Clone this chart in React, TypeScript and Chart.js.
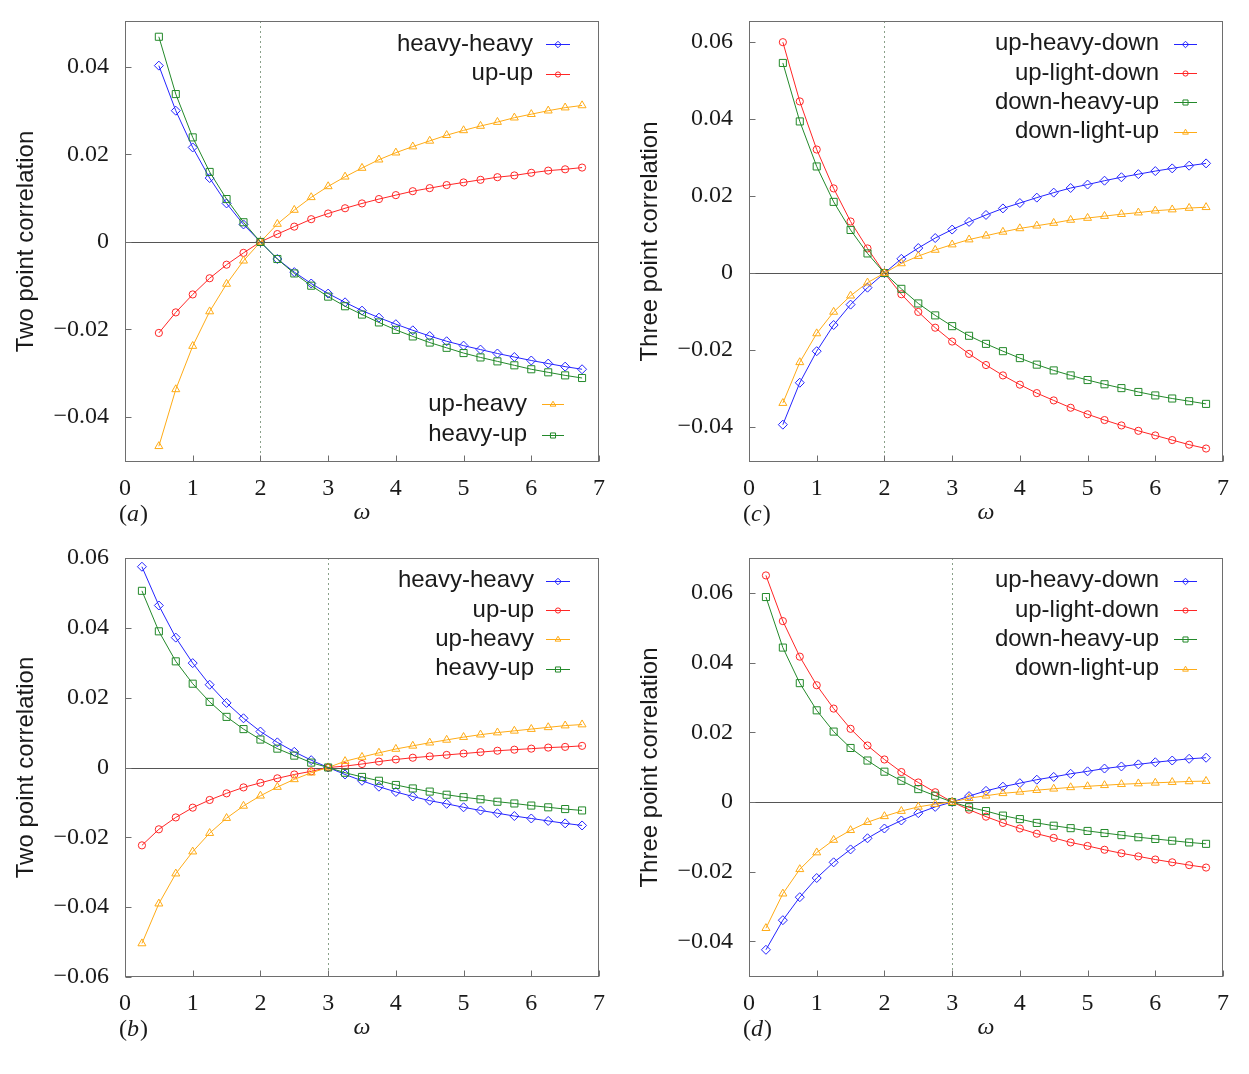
import React, { useEffect, useRef } from 'react';
import { Chart, registerables } from 'chart.js';
import { drawPoint } from 'chart.js/helpers';

Chart.register(...registerables);

// ---------- data ----------
const omegaAC = [0.5, 0.75, 1, 1.25, 1.5, 1.75, 2, 2.25, 2.5, 2.75, 3, 3.25, 3.5, 3.75, 4, 4.25, 4.5, 4.75, 5, 5.25, 5.5, 5.75, 6, 6.25, 6.5, 6.75];
const omegaBD = [0.25, 0.5, 0.75, 1, 1.25, 1.5, 1.75, 2, 2.25, 2.5, 2.75, 3, 3.25, 3.5, 3.75, 4, 4.25, 4.5, 4.75, 5, 5.25, 5.5, 5.75, 6, 6.25, 6.5, 6.75];

// panel (a)
const aHeavyHeavy = [0.0403, 0.0300, 0.0216, 0.0146, 0.0088, 0.0040, 0, -0.0039, -0.0069, -0.0095, -0.0118, -0.0138, -0.0157, -0.0173, -0.0188, -0.0202, -0.0215, -0.0227, -0.0237, -0.0246, -0.0255, -0.0263, -0.0271, -0.0278, -0.0285, -0.0291];
const aUpUp = [-0.0208, -0.0161, -0.0120, -0.0083, -0.0052, -0.0025, 0, 0.0018, 0.0035, 0.0052, 0.0065, 0.0077, 0.0088, 0.0098, 0.0107, 0.0116, 0.0123, 0.0130, 0.0136, 0.0142, 0.0148, 0.0152, 0.0158, 0.0163, 0.0166, 0.0170];
const aUpHeavy = [-0.0467, -0.0337, -0.0238, -0.0159, -0.0096, -0.0043, 0, 0.0041, 0.0073, 0.0102, 0.0127, 0.0149, 0.0169, 0.0188, 0.0204, 0.0218, 0.0231, 0.0244, 0.0255, 0.0265, 0.0274, 0.0284, 0.0292, 0.0300, 0.0307, 0.0312];
const aHeavyUp = [0.0469, 0.0338, 0.0239, 0.0160, 0.0098, 0.0045, 0, -0.0039, -0.0072, -0.0100, -0.0125, -0.0147, -0.0166, -0.0184, -0.0201, -0.0216, -0.0230, -0.0242, -0.0254, -0.0264, -0.0273, -0.0282, -0.0291, -0.0298, -0.0305, -0.0311];

// panel (b)
const bHeavyHeavy = [0.0575, 0.0464, 0.0372, 0.0299, 0.0237, 0.0185, 0.0141, 0.0103, 0.0072, 0.0045, 0.0021, 0, -0.0020, -0.0038, -0.0055, -0.0070, -0.0083, -0.0095, -0.0104, -0.0114, -0.0123, -0.0131, -0.0139, -0.0146, -0.0153, -0.0160, -0.0166];
const bUpUp = [-0.0223, -0.0177, -0.0143, -0.0115, -0.0093, -0.0074, -0.0057, -0.0044, -0.0031, -0.0020, -0.0011, 0, 0.0004, 0.0010, 0.0017, 0.0023, 0.0028, 0.0032, 0.0036, 0.0040, 0.0044, 0.0048, 0.0051, 0.0054, 0.0057, 0.0059, 0.0062];
const bUpHeavy = [-0.0504, -0.0390, -0.0304, -0.0241, -0.0188, -0.0145, -0.0110, -0.0081, -0.0056, -0.0034, -0.0015, 0, 0.0018, 0.0030, 0.0042, 0.0053, 0.0062, 0.0071, 0.0079, 0.0087, 0.0094, 0.0100, 0.0105, 0.0110, 0.0115, 0.0120, 0.0123];
const bHeavyUp = [0.0506, 0.0390, 0.0304, 0.0240, 0.0188, 0.0145, 0.0110, 0.0080, 0.0054, 0.0034, 0.0014, 0, -0.0015, -0.0027, -0.0038, -0.0050, -0.0060, -0.0069, -0.0078, -0.0085, -0.0091, -0.0098, -0.0103, -0.0109, -0.0114, -0.0119, -0.0123];

// panel (c)
const cUpHeavyDown = [-0.0394, -0.0285, -0.0203, -0.0135, -0.0082, -0.0038, 0, 0.0037, 0.0065, 0.0091, 0.0113, 0.0133, 0.0151, 0.0168, 0.0182, 0.0196, 0.0209, 0.0221, 0.0230, 0.0240, 0.0249, 0.0257, 0.0265, 0.0272, 0.0279, 0.0285];
const cUpLightDown = [0.0600, 0.0446, 0.0321, 0.0220, 0.0134, 0.0064, 0, -0.0055, -0.0101, -0.0142, -0.0178, -0.0210, -0.0239, -0.0266, -0.0290, -0.0312, -0.0331, -0.0350, -0.0367, -0.0382, -0.0396, -0.0410, -0.0422, -0.0434, -0.0446, -0.0456];
const cDownHeavyUp = [0.0546, 0.0394, 0.0277, 0.0185, 0.0112, 0.0051, 0, -0.0041, -0.0079, -0.0110, -0.0138, -0.0163, -0.0184, -0.0203, -0.0221, -0.0238, -0.0253, -0.0266, -0.0278, -0.0289, -0.0299, -0.0309, -0.0318, -0.0326, -0.0333, -0.0340];
const cDownLightUp = [-0.0338, -0.0232, -0.0157, -0.0101, -0.0059, -0.0025, 0, 0.0025, 0.0044, 0.0060, 0.0074, 0.0087, 0.0097, 0.0107, 0.0116, 0.0123, 0.0130, 0.0138, 0.0143, 0.0148, 0.0153, 0.0157, 0.0162, 0.0165, 0.0169, 0.0171];

// panel (d)
const dUpHeavyDown = [-0.0424, -0.0339, -0.0273, -0.0218, -0.0173, -0.0136, -0.0104, -0.0076, -0.0053, -0.0032, -0.0014, 0, 0.0017, 0.0032, 0.0044, 0.0054, 0.0064, 0.0072, 0.0081, 0.0088, 0.0096, 0.0102, 0.0108, 0.0114, 0.0119, 0.0124, 0.0127];
const dUpLightDown = [0.0650, 0.0519, 0.0417, 0.0335, 0.0268, 0.0210, 0.0162, 0.0122, 0.0086, 0.0056, 0.0028, 0, -0.0022, -0.0042, -0.0060, -0.0076, -0.0091, -0.0103, -0.0116, -0.0126, -0.0137, -0.0147, -0.0156, -0.0165, -0.0173, -0.0181, -0.0188];
const dDownHeavyUp = [0.0588, 0.0443, 0.0341, 0.0263, 0.0202, 0.0155, 0.0119, 0.0087, 0.0061, 0.0037, 0.0018, 0, -0.0015, -0.0026, -0.0039, -0.0049, -0.0060, -0.0068, -0.0075, -0.0083, -0.0089, -0.0095, -0.0101, -0.0106, -0.0111, -0.0116, -0.0120];
const dDownLightUp = [-0.0362, -0.0263, -0.0193, -0.0145, -0.0109, -0.0081, -0.0058, -0.0041, -0.0026, -0.0014, -0.0006, 0, 0.0011, 0.0018, 0.0025, 0.0029, 0.0034, 0.0038, 0.0042, 0.0045, 0.0048, 0.0051, 0.0053, 0.0055, 0.0057, 0.0059, 0.0060];

const xTicks = [0, 1, 2, 3, 4, 5, 6, 7];
const yTicksA = [-0.04, -0.02, 0, 0.02, 0.04];
const yTicksB = [-0.06, -0.04, -0.02, 0, 0.02, 0.04, 0.06];
const yTicksC = [-0.04, -0.02, 0, 0.02, 0.04, 0.06];
const yTicksD = [-0.04, -0.02, 0, 0.02, 0.04, 0.06];

const twoLabels = ['heavy-heavy', 'up-up', 'up-heavy', 'heavy-up'];
const threeLabels = ['up-heavy-down', 'up-light-down', 'down-heavy-up', 'down-light-up'];

// ---------- styles ----------
const BLUE = { color: '#2424ff', pointStyle: 'rectRot', r: 4.5 };
const RED = { color: '#ff2626', pointStyle: 'circle', r: 3.6 };
const ORANGE = { color: '#ffab16', pointStyle: 'triangle', r: 4.6 };
const GREEN = { color: '#23892a', pointStyle: 'rect', r: 5 };

const TEXT = '#1a1a1a';
const SANS = "'Liberation Sans', Arial, sans-serif";
const SERIF = "'Liberation Serif', 'Times New Roman', serif";

const fmtTick = (v: number) => {
  if (Math.abs(v) < 1e-12) return '0';
  return (v < 0 ? '\u2212' : '') + Math.abs(v).toFixed(2);
};

const decoPlugin = {
  id: 'deco',
  beforeDatasetsDraw(chart: any, _a: any, opts: any) {
    const { ctx, chartArea: ca, scales } = chart;
    const y0 = Math.round(scales.y.getPixelForValue(0)) + 0.5;
    const xv = Math.round(scales.x.getPixelForValue(opts.crossX)) + 0.5;
    ctx.save();
    ctx.lineWidth = 1;
    ctx.strokeStyle = '#8aa08a';
    ctx.setLineDash([2, 3]);
    ctx.beginPath();
    ctx.moveTo(xv, ca.top);
    ctx.lineTo(xv, ca.bottom);
    ctx.stroke();
    ctx.setLineDash([]);
    ctx.strokeStyle = '#555555';
    ctx.beginPath();
    ctx.moveTo(ca.left, y0);
    ctx.lineTo(ca.right, y0);
    ctx.stroke();
    ctx.restore();
  },
  afterDraw(chart: any, _a: any, opts: any) {
    const { ctx, chartArea: ca, scales } = chart;
    ctx.save();
    ctx.lineWidth = 1;
    ctx.strokeStyle = '#6e6e6e';
    const L = Math.round(ca.left) + 0.5, R = Math.round(ca.right) - 0.5;
    const T = Math.round(ca.top) + 0.5, B = Math.round(ca.bottom) - 0.5;
    ctx.strokeRect(L, T, R - L, B - T);
    ctx.beginPath();
    scales.x.ticks.forEach((t: any) => {
      const px = Math.round(scales.x.getPixelForValue(t.value)) + 0.5;
      ctx.moveTo(px, B);
      ctx.lineTo(px, B - 6);
    });
    scales.y.ticks.forEach((t: any) => {
      const py = Math.round(scales.y.getPixelForValue(t.value)) + 0.5;
      ctx.moveTo(L, py);
      ctx.lineTo(L + 6, py);
    });
    ctx.stroke();

    // legends
    ctx.font = `24px ${SANS}`;
    ctx.textAlign = 'right';
    ctx.textBaseline = 'middle';
    (opts.groups || []).forEach((g: any) => {
      g.items.forEach((k: number, i: number) => {
        const ds = chart.data.datasets[k];
        const yy = (g.anchor === 'top' ? ca.top + g.first : ca.bottom - g.first) + i * g.step;
        ctx.fillStyle = TEXT;
        ctx.fillText(ds.label, ca.right - g.textOff, yy);
        ctx.strokeStyle = ds.borderColor;
        ctx.lineWidth = 1;
        ctx.beginPath();
        ctx.moveTo(ca.right - g.lineFrom, Math.round(yy) + 0.5);
        ctx.lineTo(ca.right - g.lineTo, Math.round(yy) + 0.5);
        ctx.stroke();
        ctx.fillStyle = 'rgba(0,0,0,0)';
        drawPoint(ctx, { pointStyle: ds.pointStyle, radius: ds.pointRadius * 0.72, rotation: 0, borderWidth: 1 }, ca.right - (g.lineFrom + g.lineTo) / 2, Math.round(yy) + 0.5);
      });
    });

    // panel label like (a)
    ctx.fillStyle = TEXT;
    ctx.textAlign = 'left';
    ctx.textBaseline = 'middle';
    const ly = ca.bottom + 53;
    let lx = ca.left - 6;
    ctx.font = `24px ${SERIF}`;
    ctx.fillText('(', lx, ly);
    lx += ctx.measureText('(').width;
    ctx.font = `italic 24px ${SERIF}`;
    ctx.fillText(opts.tag, lx, ly);
    lx += ctx.measureText(opts.tag).width + 1;
    ctx.font = `24px ${SERIF}`;
    ctx.fillText(')', lx, ly);
    ctx.restore();
  },
};

type PanelCfg = {
  left: number; top: number; w: number; h: number;
  padTop: number; padRight: number; padBottom: number;
  xs: number[]; series: number[][]; labels: string[]; styles: any[];
  ymin: number; ymax: number; yTicks: number[];
  yTitle: string; crossX: number; tag: string; groups: any[];
};

function Panel({ cfg }: { cfg: PanelCfg }) {
  const ref = useRef<HTMLCanvasElement>(null);
  useEffect(() => {
    const canvas = ref.current!;
    const datasets = cfg.series.map((s, i) => {
      const st = cfg.styles[i];
      return {
        label: cfg.labels[i],
        data: cfg.xs.map((x, j) => ({ x, y: s[j] })),
        showLine: true,
        borderColor: st.color,
        backgroundColor: 'rgba(0,0,0,0)',
        pointBorderColor: st.color,
        pointBackgroundColor: 'rgba(0,0,0,0)',
        pointStyle: st.pointStyle,
        pointRadius: st.r,
        pointBorderWidth: 1,
        borderWidth: 1,
        tension: 0,
        order: 10 - i,
      };
    });
    const chart = new Chart(canvas, {
      type: 'scatter',
      data: { datasets: datasets as any },
      plugins: [decoPlugin as any],
      options: {
        animation: false,
        responsive: false,
        devicePixelRatio: 1,
        layout: { padding: { top: cfg.padTop, right: cfg.padRight, bottom: cfg.padBottom, left: 0 } },
        plugins: {
          legend: { display: false },
          tooltip: { enabled: false },
          deco: { crossX: cfg.crossX, tag: cfg.tag, groups: cfg.groups },
        } as any,
        scales: {
          x: {
            type: 'linear', min: 0, max: 7,
            afterBuildTicks: (s: any) => { s.ticks = xTicks.map((v) => ({ value: v })); },
            afterFit: (s: any) => { s.height = 75; s.paddingLeft = 0; s.paddingRight = 0; },
            ticks: { font: { family: SERIF, size: 24 }, color: TEXT, padding: 4, maxRotation: 0, autoSkip: false },
            grid: { display: false },
            border: { display: false },
            title: { display: true, text: 'ω', color: TEXT, font: { family: SERIF, size: 24, style: 'italic' }, padding: { top: 0, bottom: 10 } },
          },
          y: {
            type: 'linear', min: cfg.ymin, max: cfg.ymax,
            afterBuildTicks: (s: any) => { s.ticks = cfg.yTicks.map((v) => ({ value: v })); },
            afterFit: (s: any) => { s.width = 125; s.paddingTop = 0; s.paddingBottom = 0; },
            ticks: { font: { family: SERIF, size: 24 }, color: TEXT, padding: 8, callback: (v: any) => fmtTick(Number(v)), autoSkip: false },
            grid: { display: false },
            border: { display: false },
            title: { display: true, text: cfg.yTitle, color: TEXT, font: { family: SANS, size: 24 }, padding: { top: 12, bottom: 0 } },
          },
        },
      } as any,
    });
    return () => chart.destroy();
  }, []);
  return (
    <canvas
      ref={ref}
      width={cfg.w}
      height={cfg.h}
      style={{ position: 'absolute', left: cfg.left, top: cfg.top, width: cfg.w, height: cfg.h }}
    />
  );
}

const topGroup = (n: number, textOff: number, lineFrom: number, lineTo: number) => ({
  items: Array.from({ length: n }, (_, i) => i), anchor: 'top', first: 22.5, step: 29.4, textOff, lineFrom, lineTo,
});

const TWO_STYLES = [BLUE, RED, ORANGE, GREEN];
const THREE_STYLES = [BLUE, RED, GREEN, ORANGE];

const panels: PanelCfg[] = [
  {
    left: 0, top: 0, w: 624, h: 537, padTop: 21, padRight: 25, padBottom: 0,
    xs: omegaAC, series: [aHeavyHeavy, aUpUp, aUpHeavy, aHeavyUp], labels: twoLabels, styles: TWO_STYLES,
    ymin: -0.0503, ymax: 0.0505, yTicks: yTicksA, yTitle: 'Two point correlation', crossX: 2, tag: 'a',
    groups: [
      { items: [0, 1], anchor: 'top', first: 23, step: 29.5, textOff: 66, lineFrom: 53, lineTo: 29 },
      { items: [2, 3], anchor: 'bottom', first: 58, step: 30.5, textOff: 72, lineFrom: 57, lineTo: 35 },
    ],
  },
  {
    left: 0, top: 537, w: 624, h: 537, padTop: 21, padRight: 25, padBottom: 22,
    xs: omegaBD, series: [bHeavyHeavy, bUpUp, bUpHeavy, bHeavyUp], labels: twoLabels, styles: TWO_STYLES,
    ymin: -0.06, ymax: 0.06, yTicks: yTicksB, yTitle: 'Two point correlation', crossX: 3, tag: 'b',
    groups: [topGroup(4, 65, 53, 29)],
  },
  {
    left: 624, top: 0, w: 625, h: 537, padTop: 21, padRight: 26, padBottom: 0,
    xs: omegaAC, series: [cUpHeavyDown, cUpLightDown, cDownHeavyUp, cDownLightUp], labels: threeLabels, styles: THREE_STYLES,
    ymin: -0.0491, ymax: 0.0655, yTicks: yTicksC, yTitle: 'Three point correlation', crossX: 2, tag: 'c',
    groups: [topGroup(4, 64, 49, 26)],
  },
  {
    left: 624, top: 537, w: 625, h: 537, padTop: 21, padRight: 26, padBottom: 22,
    xs: omegaBD, series: [dUpHeavyDown, dUpLightDown, dDownHeavyUp, dDownLightUp], labels: threeLabels, styles: THREE_STYLES,
    ymin: -0.0502, ymax: 0.07, yTicks: yTicksD, yTitle: 'Three point correlation', crossX: 3, tag: 'd',
    groups: [topGroup(4, 64, 49, 26)],
  },
];

export default function App() {
  return (
    <div style={{ position: 'absolute', left: 0, top: 0, width: 1249, height: 1074, background: '#ffffff', overflow: 'hidden' }}>
      {panels.map((p, i) => <Panel key={i} cfg={p} />)}
    </div>
  );
}
